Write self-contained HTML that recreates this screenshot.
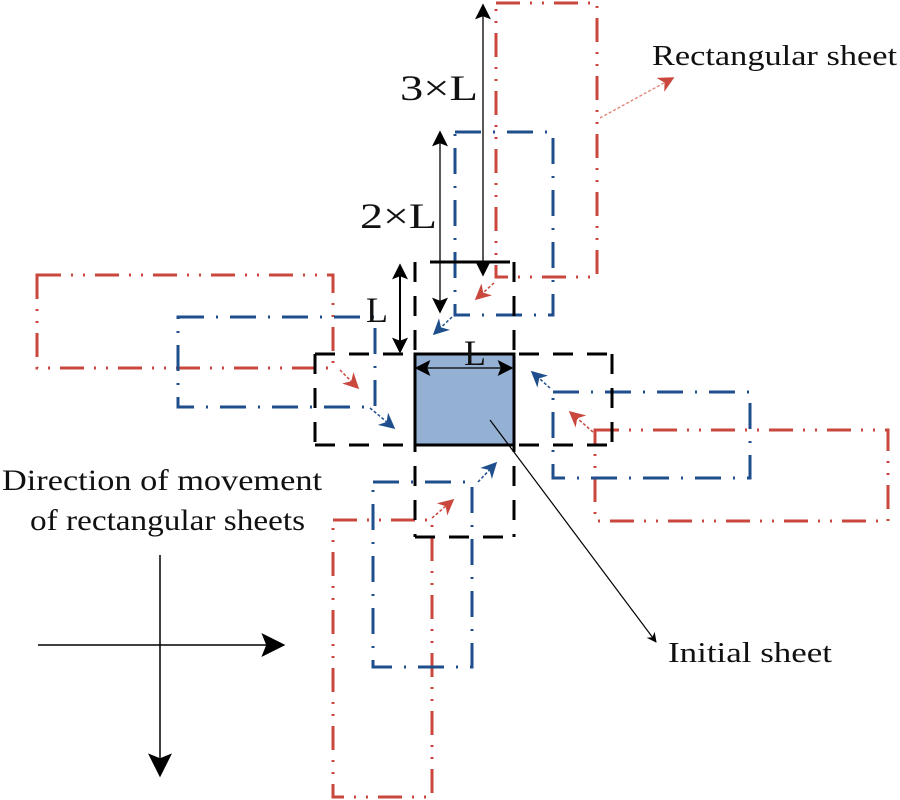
<!DOCTYPE html>
<html><head><meta charset="utf-8"><style>
html,body{margin:0;padding:0;background:#fff;}
svg{display:block;}
text{font-family:"Liberation Serif",serif;fill:#111;}
</style></head><body>
<svg width="900" height="800" viewBox="0 0 900 800" xmlns="http://www.w3.org/2000/svg">
<defs>
<marker id="ab" viewBox="0 0 10 10" refX="9" refY="5" markerWidth="10" markerHeight="10" orient="auto-start-reverse" markerUnits="userSpaceOnUse"><path d="M0,0 L10,5 L0,10 L3,5z" fill="#000"/></marker>
<marker id="abig" viewBox="0 0 10 10" refX="9" refY="5" markerWidth="16" markerHeight="16" orient="auto-start-reverse" markerUnits="userSpaceOnUse"><path d="M0,0 L10,5 L0,10 L2,5z" fill="#000"/></marker>
<marker id="ahuge" viewBox="0 0 10 10" refX="9" refY="5" markerWidth="28" markerHeight="24" orient="auto" markerUnits="userSpaceOnUse"><path d="M0,0 L10,5 L0,10 L2,5z" fill="#000"/></marker>
<marker id="ar" viewBox="0 0 10 10" refX="9" refY="5" markerWidth="16" markerHeight="16" orient="auto" markerUnits="userSpaceOnUse"><path d="M0,0 L10,5 L0,10 L3,5z" fill="#c9473d"/></marker>
<marker id="abl" viewBox="0 0 10 10" refX="9" refY="5" markerWidth="16" markerHeight="16" orient="auto" markerUnits="userSpaceOnUse"><path d="M0,0 L10,5 L0,10 L3,5z" fill="#1f4e8c"/></marker>
</defs>

<g fill="none" stroke="#c9473d" stroke-width="3" stroke-dasharray="24 10 2 10 2 10">
<rect x="496" y="3" width="101" height="274"/>
<rect x="37" y="275" width="296" height="93"/>
<rect x="595" y="430" width="293" height="91"/>
<rect x="333" y="520" width="99" height="277"/>
</g>
<g fill="none" stroke="#1f4e8c" stroke-width="3" stroke-dasharray="26 12 2 12">
<rect x="455" y="132" width="98" height="183"/>
<rect x="178" y="317" width="197" height="90"/>
<rect x="553" y="392" width="197" height="86"/>
<rect x="373" y="482" width="99" height="185"/>
</g>

<rect x="415" y="354" width="99" height="91" fill="#94b0d2" stroke="#000" stroke-width="3"/>

<g stroke="#000" stroke-width="3" fill="none" stroke-dasharray="20 14">
<line x1="315" y1="354" x2="612" y2="354"/>
<line x1="315" y1="445" x2="612" y2="445"/>
<line x1="415" y1="262" x2="415" y2="537"/>
<line x1="514" y1="262" x2="514" y2="537"/>
<line x1="315" y1="354" x2="315" y2="445"/>
<line x1="612" y1="354" x2="612" y2="445"/>
<line x1="415" y1="537" x2="514" y2="537"/>
</g>
<line x1="430" y1="262" x2="510" y2="262" stroke="#000" stroke-width="3"/>

<line x1="483" y1="5" x2="483" y2="275" stroke="#000" stroke-width="1.3" marker-start="url(#abig)" marker-end="url(#abig)"/>
<line x1="440" y1="132" x2="440" y2="312" stroke="#000" stroke-width="1.3" marker-start="url(#abig)" marker-end="url(#abig)"/>
<line x1="400" y1="265" x2="400" y2="352" stroke="#000" stroke-width="2" marker-start="url(#abig)" marker-end="url(#abig)"/>
<line x1="416" y1="368" x2="512" y2="368" stroke="#000" stroke-width="1.3" marker-start="url(#abig)" marker-end="url(#abig)"/>

<text x="400" y="100" font-size="36" textLength="78" lengthAdjust="spacingAndGlyphs">3×L</text>
<text x="360" y="228" font-size="36" textLength="77" lengthAdjust="spacingAndGlyphs">2×L</text>
<text x="366" y="322" font-size="36">L</text>
<text x="464" y="365" font-size="36">L</text>

<line x1="494" y1="283" x2="476" y2="299" stroke="#c9473d" stroke-width="1.5" stroke-dasharray="3 2" marker-end="url(#ar)"/>
<line x1="452" y1="317" x2="434" y2="334" stroke="#1f4e8c" stroke-width="1.5" stroke-dasharray="3 2" marker-end="url(#abl)"/>
<line x1="340" y1="370" x2="358" y2="388" stroke="#c9473d" stroke-width="1.5" stroke-dasharray="3 2" marker-end="url(#ar)"/>
<line x1="370" y1="408" x2="394" y2="428" stroke="#1f4e8c" stroke-width="1.5" stroke-dasharray="3 2" marker-end="url(#abl)"/>
<line x1="550" y1="388" x2="532" y2="372" stroke="#1f4e8c" stroke-width="1.5" stroke-dasharray="3 2" marker-end="url(#abl)"/>
<line x1="593" y1="432" x2="570" y2="412" stroke="#c9473d" stroke-width="1.5" stroke-dasharray="3 2" marker-end="url(#ar)"/>
<line x1="478" y1="482" x2="496" y2="463" stroke="#1f4e8c" stroke-width="1.5" stroke-dasharray="3 2" marker-end="url(#abl)"/>
<line x1="432" y1="518" x2="453" y2="500" stroke="#c9473d" stroke-width="1.5" stroke-dasharray="3 2" marker-end="url(#ar)"/>

<line x1="600" y1="118" x2="673" y2="78" stroke="#e08070" stroke-width="1.3" stroke-dasharray="3 2" marker-end="url(#ar)"/>
<text x="652" y="65" font-size="29" textLength="245" lengthAdjust="spacingAndGlyphs">Rectangular sheet</text>
<line x1="490" y1="420" x2="656" y2="642" stroke="#000" stroke-width="1.2" marker-end="url(#ab)"/>
<text x="668" y="662" font-size="29" textLength="164" lengthAdjust="spacingAndGlyphs">Initial sheet</text>

<text x="2" y="490" font-size="30" textLength="320" lengthAdjust="spacingAndGlyphs">Direction of movement</text>
<text x="30" y="530" font-size="30" textLength="275" lengthAdjust="spacingAndGlyphs">of rectangular sheets</text>

<line x1="38" y1="645" x2="283" y2="645" stroke="#000" stroke-width="1.5" marker-end="url(#ahuge)"/>
<line x1="160" y1="555" x2="160" y2="775" stroke="#000" stroke-width="1.5" marker-end="url(#ahuge)"/>
</svg>
</body></html>
